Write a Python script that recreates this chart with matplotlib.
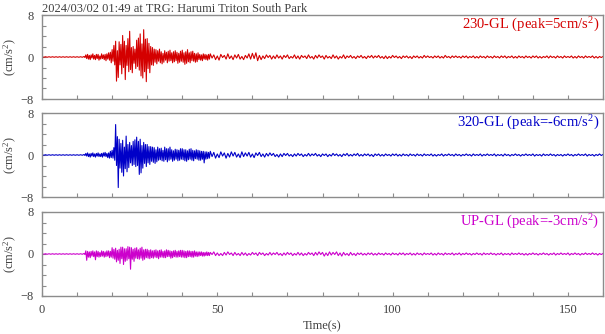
import numpy as np
import matplotlib
matplotlib.use("Agg")
import matplotlib.pyplot as plt

# --- data ---
# time axis: 0.5 s before the event, 0.25 s through the strong motion, 0.5 s in the coda
t_pre = np.arange(0, 12, 0.5)
t_strong = np.arange(12, 48, 0.25)
t_tail = np.arange(48, 160.01, 0.5)
time = np.concatenate([t_pre, t_strong, t_tail])

title = "2024/03/02 01:49 at TRG: Harumi Triton South Park"
channels = ["230-GL", "320-GL", "UP-GL"]
peaks = [5, -6, -3]

# before the first arrival all three channels are flat
quiet_pre = [0.05, -0.05] * 12

acc_230 = quiet_pre + [
    # 12 s .. 48 s, four samples per second
    0.1, -0.1, 0.4, -0.3,  0.5, -0.4, 0.3, -0.5,  0.4, -0.2, 0.6, -0.4,  0.3, -0.5, 0.5, -0.3,
    0.5, -0.6, 0.2, -0.4,  0.6, -0.3, 0.4, -0.5,  0.5, -0.7, 0.6, -0.4,  0.8, -0.6, 0.9, -1.1,
    1.4, -0.8, 2.2, -1.5,  3.0, -4.6, 1.2, -3.9,  2.9, -1.5, 2.4, -3.2,  4.1, -2.0, 3.0, -4.3,
    2.2, -1.6, 3.5, -2.8,  4.9, -2.4, 1.8, -3.0,  2.0, -1.2, 1.5, -2.2,  3.2, -1.8, 3.6, -2.5,
    4.4, -3.6, 2.5, -4.0,  5.2, -2.8, 3.4, -4.7,  3.5, -2.2, 2.6, -3.0,  2.0, -1.5, 1.8, -1.6,
    1.5, -1.0, 1.4, -1.3,  1.2, -0.8, 1.5, -1.1,  1.0, -1.3, 0.7, -1.0,  1.2, -0.6, 0.9, -1.1,
    1.1, -0.8, 1.3, -0.7,  0.8, -1.1, 1.0, -0.9,  1.2, -0.7, 0.9, -1.2,  0.7, -1.0, 1.1, -0.8,
    1.3, -1.0, 0.8, -1.4,  1.0, -1.2, 1.4, -0.9,  0.8, -1.1, 1.0, -0.7,  1.1, -0.8, 0.7, -1.0,
    0.6, -0.9, 0.8, -0.5,  0.5, -0.6, 0.4, -0.7,  0.6, -0.4, 0.5, -0.5,  0.4, -0.6, 0.5, -0.4,
] + [
    # 48 s .. 160 s, two samples per second
    0.6, -0.2, 0.4, -0.5, 0.2, -0.6, 0.5, -0.1, 0.3, -0.4, 0.6, -0.3, 0.2, -0.5, 0.4, -0.2, 0.5, -0.4, 0.1, -0.5,
    0.3, -0.2, 0.6, -0.4, 0.7, -0.3, 0.8, -0.7, 0.3, -0.5, 0.2, -0.3, 0.4, -0.1, 0.3, -0.4, 0.2, -0.3, 0.4, -0.2,
    0.2, -0.4, 0.3, -0.1, 0.4, -0.3, 0.1, -0.2, 0.4, -0.3, 0.2, -0.4, 0.3, -0.1, 0.2, -0.3, 0.4, -0.2, 0.1, -0.4,
    0.3, -0.2, 0.4, -0.1, 0.2, -0.4, 0.3, -0.2, 0.1, -0.3, 0.4, -0.2, 0.2, -0.4, 0.1, -0.2, 0.4, -0.3, 0.2, -0.1,
    0.3, -0.2, 0.1, -0.3, 0.2, -0.1, 0.3, -0.2, 0.1, -0.3, 0.2, -0.1, 0.3, -0.2, 0.2, -0.1, 0.3, -0.2, 0.1, -0.3,
    0.2, -0.3, 0.1, -0.2, 0.3, -0.1, 0.2, -0.2, 0.1, -0.3, 0.2, -0.1, 0.2, -0.2, 0.1, -0.3, 0.2, -0.1, 0.2, -0.2,
    0.1, -0.2, 0.3, -0.1, 0.2, -0.1, 0.1, -0.2, 0.2, -0.1, 0.2, -0.2, 0.1, -0.2, 0.3, -0.1, 0.1, -0.2, 0.2, -0.1,
    0.2, -0.1, 0.1, -0.2, 0.2, -0.1, 0.2, -0.2, 0.1, -0.1, 0.2, -0.2, 0.1, -0.2, 0.2, -0.1, 0.1, -0.2, 0.2, -0.1,
    0.1, -0.2, 0.2, -0.1, 0.1, -0.2, 0.2, -0.1, 0.2, -0.2, 0.1, -0.1, 0.2, -0.2, 0.1, -0.2, 0.2, -0.1, 0.1, -0.2,
    0.2, -0.1, 0.1, -0.2, 0.2, -0.1, 0.2, -0.2, 0.1, -0.2, 0.1, -0.1, 0.2, -0.2, 0.2, -0.1, 0.1, -0.2, 0.2, -0.1,
    0.1, -0.2, 0.2, -0.1, 0.1, -0.1, 0.2, -0.2, 0.1, -0.2, 0.2, -0.1, 0.1, -0.2, 0.2, -0.1, 0.1, -0.1, 0.2, -0.2,
    0.1, -0.2, 0.1, -0.1, 0.1,
]

acc_320 = quiet_pre + [
    0.1, -0.1, 0.3, -0.2,  0.4, -0.3, 0.2, -0.4,  0.3, -0.2, 0.4, -0.3,  0.2, -0.4, 0.3, -0.2,
    0.4, -0.3, 0.2, -0.3,  0.3, -0.4, 0.4, -0.2,  0.5, -0.3, 0.3, -0.5,  0.4, -0.6, 0.7, -0.5,
    0.9, -0.6, 1.4, -1.0,  5.8, -2.0, 3.5, -6.2,  3.0, -2.5, 2.2, -3.3,  2.8, -4.0, 1.5, -2.6,
    3.6, -3.2, 2.0, -2.4,  2.4, -1.5, 1.8, -2.0,  2.6, -1.8, 2.9, -2.2,  3.4, -2.0, 2.6, -3.7,
    3.0, -3.4, 1.8, -2.5,  2.4, -1.6, 2.0, -2.2,  2.0, -1.5, 1.6, -1.8,  1.6, -1.2, 1.5, -1.4,
    1.4, -1.6, 1.0, -1.3,  1.5, -1.0, 1.2, -0.9,  1.3, -1.1, 0.9, -1.2,  1.5, -0.9, 1.2, -1.3,
    1.2, -1.0, 1.5, -0.8,  1.0, -1.2, 0.8, -1.0,  1.1, -0.8, 1.0, -1.1,  0.9, -1.0, 1.2, -0.8,
    1.2, -0.9, 1.0, -1.1,  1.0, -1.2, 0.8, -0.9,  1.1, -0.8, 1.2, -1.0,  0.9, -1.1, 0.8, -0.7,
    1.0, -0.8, 0.9, -1.0,  0.8, -1.0, 0.7, -0.8,  0.7, -1.5, 0.6, -0.8,  0.6, -0.7, 0.5, -0.6,
] + [
    0.7, -0.3, 0.5, -0.6, 0.2, -0.5, 0.6, -0.2, 0.4, -0.6, 0.3, -0.4, 0.6, -0.2, 0.5, -0.4, 0.2, -0.5, 0.6, -0.3,
    0.4, -0.2, 0.5, -0.4, 0.2, -0.5, 0.4, -0.1, 0.5, -0.3, 0.2, -0.4, 0.3, -0.2, 0.4, -0.1, 0.3, -0.3, 0.1, -0.4,
    0.2, -0.3, 0.3, -0.1, 0.3, -0.2, 0.1, -0.3, 0.2, -0.2, 0.3, -0.1, 0.2, -0.3, 0.1, -0.2, 0.3, -0.2, 0.2, -0.1,
    0.3, -0.2, 0.1, -0.3, 0.2, -0.1, 0.2, -0.3, 0.1, -0.2, 0.3, -0.1, 0.2, -0.2, 0.1, -0.3, 0.2, -0.1, 0.3, -0.2,
    0.1, -0.2, 0.2, -0.1, 0.3, -0.2, 0.1, -0.2, 0.2, -0.1, 0.2, -0.2, 0.1, -0.3, 0.2, -0.1, 0.2, -0.2, 0.1, -0.2,
    0.2, -0.1, 0.1, -0.2, 0.2, -0.1, 0.2, -0.2, 0.1, -0.2, 0.2, -0.1, 0.1, -0.2, 0.2, -0.1, 0.1, -0.2, 0.2, -0.1,
    0.1, -0.2, 0.2, -0.1, 0.1, -0.1, 0.2, -0.2, 0.1, -0.2, 0.1, -0.1, 0.2, -0.2, 0.1, -0.1, 0.2, -0.1, 0.1, -0.2,
    0.2, -0.1, 0.1, -0.2, 0.1, -0.1, 0.2, -0.1, 0.1, -0.2, 0.2, -0.1, 0.1, -0.1, 0.2, -0.2, 0.1, -0.1, 0.2, -0.1,
    0.1, -0.1, 0.2, -0.2, 0.1, -0.1, 0.1, -0.2, 0.2, -0.1, 0.1, -0.2, 0.1, -0.1, 0.2, -0.1, 0.1, -0.2, 0.1, -0.1,
    0.2, -0.1, 0.1, -0.1, 0.2, -0.2, 0.1, -0.1, 0.1, -0.2, 0.2, -0.1, 0.1, -0.1, 0.2, -0.1, 0.1, -0.2, 0.1, -0.1,
    0.1, -0.2, 0.1, -0.1, 0.2, -0.1, 0.1, -0.2, 0.1, -0.1, 0.2, -0.1, 0.1, -0.1, 0.2, -0.2, 0.1, -0.1, 0.1, -0.2,
    0.1, -0.1, 0.2, -0.1, 0.1,
]

acc_up = quiet_pre + [
    0.1, -0.1, 0.6, -1.2,  0.5, -0.6, 0.4, -0.7,  0.5, -0.4, 0.6, -0.5,  0.4, -1.1, 0.6, -0.5,
    0.5, -0.6, 0.3, -0.5,  0.6, -0.4, 0.5, -0.6,  0.4, -0.5, 0.6, -0.4,  0.6, -0.7, 0.5, -0.6,
    1.2, -0.8, 0.9, -1.0,  1.1, -1.5, 0.7, -1.2,  0.9, -1.8, 1.3, -0.9,  1.3, -2.0, 1.0, -1.4,
    1.0, -1.2, 1.4, -0.9,  1.3, -2.9, 1.2, -1.0,  0.9, -1.4, 1.1, -0.8,  1.2, -0.9, 0.8, -1.0,
    1.1, -0.8, 1.3, -1.2,  0.8, -1.0, 0.9, -0.7,  0.9, -0.8, 0.7, -0.9,  0.8, -0.7, 0.6, -0.8,
    0.7, -0.6, 0.8, -0.7,  0.6, -0.9, 0.7, -0.6,  0.8, -0.6, 0.5, -0.7,  0.6, -0.7, 0.8, -0.5,
    0.7, -0.5, 0.6, -0.8,  0.5, -0.7, 0.6, -0.5,  0.7, -0.6, 0.5, -0.6,  0.6, -0.5, 0.7, -0.6,
    0.7, -0.6, 0.6, -0.7,  0.5, -0.7, 0.6, -0.5,  0.6, -0.5, 0.5, -0.6,  0.5, -0.6, 0.6, -0.4,
    0.4, -0.5, 0.4, -0.4,  0.4, -0.3, 0.4, -0.4,  0.3, -0.4, 0.3, -0.3,  0.4, -0.3, 0.3, -0.3,
] + [
    0.3, -0.1, 0.4, -0.3, 0.2, -0.3, 0.1, -0.3, 0.3, -0.2, 0.4, -0.1, 0.2, -0.3, 0.3, -0.2, 0.1, -0.3, 0.3, -0.2,
    0.2, -0.3, 0.1, -0.2, 0.3, -0.1, 0.2, -0.3, 0.3, -0.1, 0.2, -0.3, 0.1, -0.2, 0.3, -0.2, 0.2, -0.1, 0.3, -0.2,
    0.1, -0.3, 0.2, -0.2, 0.3, -0.1, 0.2, -0.3, 0.1, -0.2, 0.3, -0.2, 0.2, -0.3, 0.1, -0.2, 0.3, -0.1, 0.2, -0.3,
    0.3, -0.2, 0.4, -0.1, 0.3, -0.4, 0.2, -0.3, 0.4, -0.2, 0.3, -0.1, 0.4, -0.3, 0.2, -0.4, 0.3, -0.2, 0.1, -0.3,
    0.3, -0.2, 0.1, -0.3, 0.2, -0.1, 0.2, -0.2, 0.1, -0.2, 0.2, -0.1, 0.2, -0.2, 0.1, -0.2, 0.2, -0.1, 0.1, -0.2,
    0.2, -0.1, 0.1, -0.2, 0.2, -0.1, 0.1, -0.2, 0.2, -0.1, 0.2, -0.2, 0.1, -0.1, 0.2, -0.2, 0.1, -0.2, 0.2, -0.1,
    0.1, -0.2, 0.2, -0.1, 0.1, -0.1, 0.2, -0.2, 0.1, -0.2, 0.2, -0.1, 0.1, -0.2, 0.2, -0.1, 0.1, -0.1, 0.2, -0.2,
    0.1, -0.1, 0.2, -0.2, 0.1, -0.1, 0.2, -0.1, 0.1, -0.2, 0.1, -0.1, 0.2, -0.1, 0.1, -0.2, 0.2, -0.1, 0.1, -0.1,
    0.2, -0.1, 0.1, -0.2, 0.1, -0.1, 0.2, -0.2, 0.1, -0.1, 0.1, -0.2, 0.2, -0.1, 0.1, -0.1, 0.2, -0.1, 0.1, -0.2,
    0.1, -0.2, 0.1, -0.1, 0.2, -0.1, 0.1, -0.2, 0.1, -0.1, 0.2, -0.1, 0.1, -0.2, 0.1, -0.1, 0.2, -0.2, 0.1, -0.1,
    0.2, -0.1, 0.1, -0.1, 0.2, -0.2, 0.1, -0.1, 0.2, -0.1, 0.1, -0.2, 0.1, -0.1, 0.2, -0.1, 0.1, -0.1, 0.2, -0.1,
    0.1, -0.2, 0.1, -0.1, 0.1,
]

traces = [acc_230, acc_320, acc_up]
colors = ["#d40000", "#0000c8", "#cc00cc"]

# --- style ---
plt.rcParams["font.family"] = ["Liberation Serif", "DejaVu Serif"]
plt.rcParams["mathtext.fontset"] = "custom"
plt.rcParams["mathtext.rm"] = "Liberation Serif"
plt.rcParams["mathtext.it"] = "Liberation Serif:italic"
spine_col = "#8c8c8c"
text_col = "#404040"

fig = plt.figure(figsize=(6.05, 3.34), dpi=100)
left, width = 42 / 605, 561 / 605
tops = [15, 113, 212]
h_px = 84

axes = []
for i, (vals, col) in enumerate(zip(traces, colors)):
    ax = fig.add_axes([left, 1 - (tops[i] + h_px) / 334, width, h_px / 334])
    ax.plot(time, vals, color=col, lw=0.8)
    ax.set_xlim(0, 160)
    ax.set_ylim(-8, 8)
    ax.set_yticks([-8, 0, 8])
    ax.set_yticks(np.arange(-8, 9, 2), minor=True)
    ax.set_xticks([0, 50, 100, 150])
    ax.set_xticks(np.arange(0, 161, 10), minor=True)
    ax.tick_params(which="both", direction="in", length=3, width=0.8,
                   color=spine_col, labelcolor=text_col, labelsize=9, pad=6)
    for s in ax.spines.values():
        s.set_color(spine_col)
        s.set_linewidth(1)
    if i < 2:
        ax.tick_params(labelbottom=False)
    ax.set_ylabel("(cm/s$^2$)", fontsize=9, color=text_col)
    ax.yaxis.set_label_coords(-0.041, 0.5)
    ax.text(0.993, 0.88, f"{channels[i]} (peak={peaks[i]}cm/s$^2$)",
            transform=ax.transAxes, ha="right", va="center",
            color=col, fontsize=10.5)
    axes.append(ax)

axes[-1].set_xlabel("Time(s)", fontsize=9, color=text_col, labelpad=3)
fig.text(left, 1 - 12 / 334, title, ha="left", va="baseline",
         fontsize=9, color=text_col)

fig.savefig("out.png", dpi=100)
